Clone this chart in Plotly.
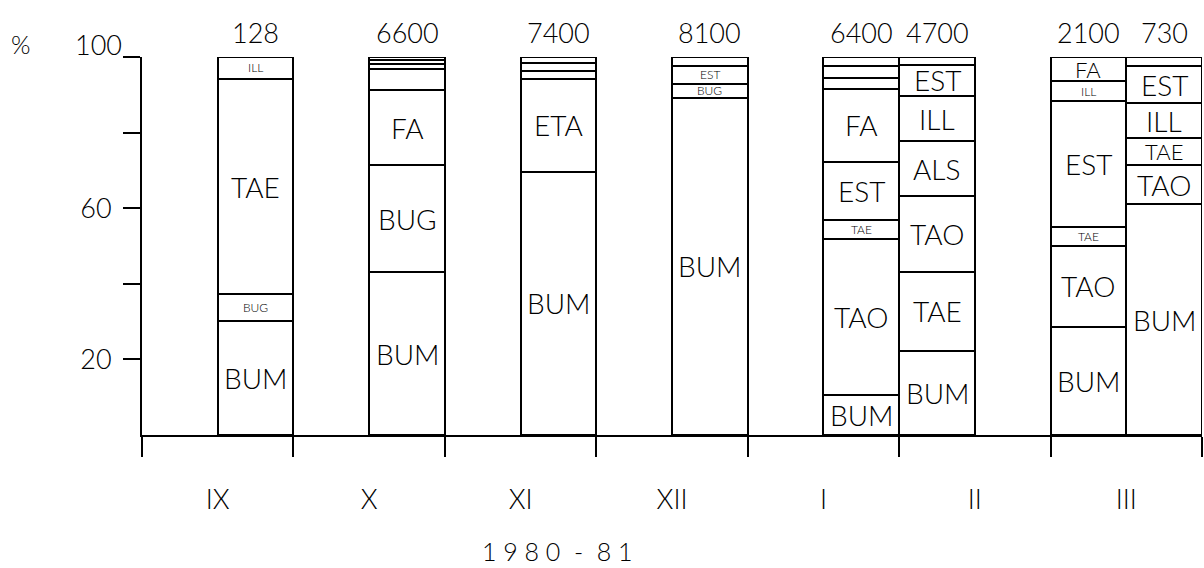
import plotly.graph_objects as go

# ---------------- data ----------------
months = ["IX", "X", "XI", "XII", "I", "II", "III"]
bar_month = ["IX", "X", "XI", "XII", "I", "II", "III", "III"]
sample_totals = ["128", "6600", "7400", "8100", "6400", "4700", "2100", "730"]

# segments listed bottom -> top, values in %
ix_names = ["BUM", "BUG", "TAE", "ILL"]
ix_values = [30.1, 7.1, 57.0, 5.8]
x_names = ["BUM", "BUG", "FA", "", "", "", ""]
x_values = [43.1, 28.2, 20.1, 5.4, 1.3, 1.1, 0.8]
xi_names = ["BUM", "ETA", "", "", ""]
xi_values = [69.6, 24.6, 2.0, 2.2, 1.6]
xii_names = ["BUM", "BUG", "EST", ""]
xii_values = [89.2, 3.7, 4.8, 2.3]
i_names = ["BUM", "TAO", "TAE", "EST", "FA", "", "", ""]
i_values = [10.6, 41.3, 5.0, 15.3, 19.4, 2.9, 3.2, 2.3]
ii_names = ["BUM", "TAE", "TAO", "ALS", "ILL", "EST", ""]
ii_values = [22.3, 20.8, 20.0, 14.6, 11.9, 8.4, 2.0]
iii_a_names = ["BUM", "TAO", "TAE", "EST", "ILL", "FA"]
iii_a_values = [28.7, 21.4, 4.8, 33.4, 5.3, 6.4]
iii_b_names = ["BUM", "TAO", "TAE", "ILL", "EST", ""]
iii_b_values = [61.0, 10.3, 7.4, 9.0, 9.9, 2.4]

y_tick_vals = [20, 40, 60, 80, 100]
y_tick_text = ["20", "", "60", "", ""]

bars_names = [ix_names, x_names, xi_names, xii_names, i_names, ii_names, iii_a_names, iii_b_names]
bars_values = [ix_values, x_values, xi_values, xii_values, i_values, ii_values, iii_a_values, iii_b_values]

# ---------------- style / layout ----------------
FONT = "Lato, Roboto, Liberation Sans, sans-serif"
WEIGHT = 300
bar_side = ["R", "R", "R", "R", "R", "L", "L", "R"]   # half of the month slot
BAR_W = 0.5
small_labels = {(0, "ILL"), (0, "BUG"), (3, "EST"), (3, "BUG"), (4, "TAE"), (6, "ILL"), (6, "TAE")}
medium_labels = {(6, "FA"), (7, "TAE")}


def fnt(size):
    return dict(family=FONT, size=size, color="black", weight=WEIGHT)


fig = go.Figure()
annotations = []

for bi, (names, vals) in enumerate(zip(bars_names, bars_values)):
    pos = months.index(bar_month[bi]) + (0.75 if bar_side[bi] == "R" else 0.25)
    base = 0.0
    for name, v in zip(names, vals):
        fig.add_trace(go.Bar(
            x=[pos], y=[v], base=[base], width=[BAR_W],
            marker=dict(color="white", line=dict(color="black", width=2)),
            showlegend=False, hoverinfo="skip"))
        if name:
            if (bi, name) in small_labels:
                size = 12
            elif (bi, name) in medium_labels:
                size = 22
            else:
                size = 28
            annotations.append(dict(
                x=pos, y=base + v / 2, xref="x", yref="y", text=name,
                showarrow=False, font=fnt(size),
                xanchor="center", yanchor="middle"))
        base += v
    annotations.append(dict(
        x=pos, y=100, xref="x", yref="y", text=sample_totals[bi], showarrow=False,
        yanchor="bottom", yshift=6, font=fnt(27)))

# y-axis top label, % sign and period label
annotations.append(dict(x=0, y=100, xref="paper", yref="y", text="100", showarrow=False,
                        xanchor="right", yanchor="middle", xshift=-18, yshift=13,
                        font=fnt(27)))
annotations.append(dict(x=0, y=100, xref="paper", yref="y", text="%", showarrow=False,
                        xanchor="center", yanchor="middle", xshift=-121, yshift=13,
                        font=fnt(25)))
annotations.append(dict(x=0.392, y=0, xref="paper", yref="paper", text="1 9 8 0  -  8 1",
                        showarrow=False, xanchor="center", yanchor="middle", yshift=-116,
                        font=fnt(25)))

fig.update_layout(
    width=1204, height=568, autosize=False,
    margin=dict(l=142, r=2, t=57, b=133, pad=0),
    paper_bgcolor="white", plot_bgcolor="white",
    barmode="overlay", bargap=0,
    annotations=annotations,
    font=dict(family=FONT, color="black"),
    xaxis=dict(
        range=[0, 7], showgrid=False, zeroline=False,
        showline=True, linecolor="black", linewidth=2,
        tickmode="array", tickvals=[i + 0.5 for i in range(len(months))], ticktext=months,
        ticks="", tickfont=fnt(27),
        ticklabelstandoff=40,
        minor=dict(tickmode="array", tickvals=list(range(len(months) + 1)),
                   ticks="outside", ticklen=20, tickwidth=2, tickcolor="black", showgrid=False),
    ),
    yaxis=dict(
        range=[0, 100], showgrid=False, zeroline=False,
        showline=True, linecolor="black", linewidth=2,
        tickmode="array", tickvals=y_tick_vals, ticktext=y_tick_text,
        ticks="outside", ticklen=17, tickwidth=2, tickcolor="black",
        ticklabelstandoff=6,
        tickfont=fnt(27),
    ),
)

fig.write_html("out.html")
